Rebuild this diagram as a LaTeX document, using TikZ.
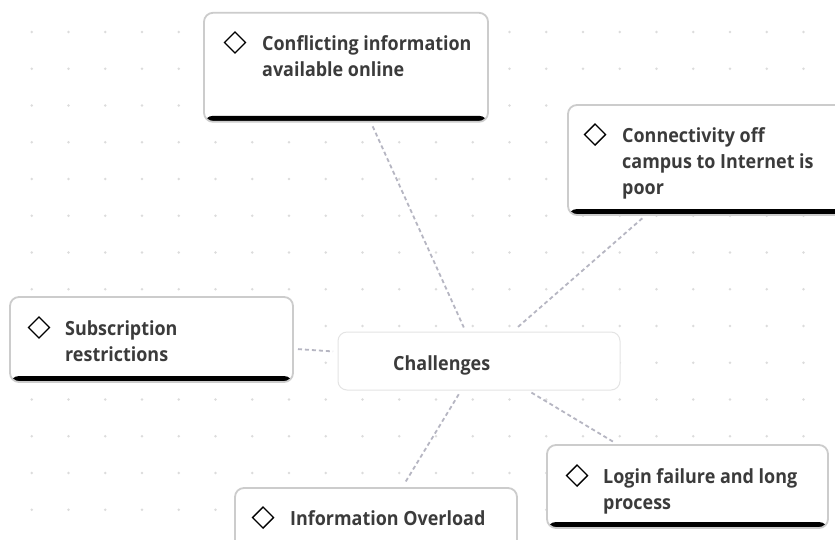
\documentclass[tikz,border=0pt]{standalone}
\usepackage{fontspec}
\setmainfont{Open Sans}[FakeStretch=0.92]
\definecolor{txt}{HTML}{3B3B3B}
\definecolor{frame}{HTML}{CCCCCC}
\definecolor{hubframe}{HTML}{E4E4E4}
\definecolor{dotc}{HTML}{DCDCDC}
\definecolor{linkc}{HTML}{B6B6C2}

% multi-line label whose base anchor is the first baseline
\newcommand{\cardlines}[1]{\parbox[t]{260pt}{\raggedright\baselineskip=26pt #1}}

\begin{document}
\begin{tikzpicture}[x=1pt,y=-1pt,
  card/.style={draw=frame, line width=1.8pt, fill=white, rounded corners=9pt,
    inner sep=0pt, outer sep=0pt,
    path picture={\fill[black] ([yshift=6pt]path picture bounding box.south west)
      rectangle (path picture bounding box.south east);}},
  hub/.style={draw=hubframe, line width=1pt, fill=white, rounded corners=9pt,
    inner sep=0pt, outer sep=0pt},
  cardtext/.style={anchor=base west, inner sep=0pt, text=txt,
    font=\fontsize{19.5pt}{26pt}\selectfont\bfseries},
  bullet/.style={draw=black, line width=1.4pt, line join=miter},
  linkline/.style={draw=linkc, line width=1.8pt, dash pattern=on 4pt off 3pt,
    shorten <=5pt, shorten >=5pt}]

\clip (0,0) rectangle (835,539);
\fill[white] (0,0) rectangle (835,539);

% dotted canvas
\foreach \i in {0,...,22}{
  \foreach \j in {0,...,14}{
    \fill[dotc] (31.7+36.75*\i, 32+36.75*\j) circle (1.4pt);
  }
}

\coordinate (hc) at (479,361);
\coordinate (p1) at (346,67.3);
\coordinate (p2) at (709,160);
\coordinate (p3) at (151.5,339.5);
\coordinate (p5) at (687.5,486.5);
\coordinate (p6) at (376,530.5);

% central topic
\node[hub, minimum width=282pt, minimum height=58pt] (hubbox) at (hc) {};
\node[cardtext] (hubtext) at (393,370.7) {Challenges};

% cards
\node[card, minimum width=284pt, minimum height=109pt] (c1) at (p1) {};
\node[card, minimum width=282pt, minimum height=110pt] (c2) at (p2) {};
\node[card, minimum width=283pt, minimum height=85pt] (c3) at (p3) {};
\node[card, minimum width=281pt, minimum height=83pt] (c5) at (p5) {};
\node[card, minimum width=282pt, minimum height=85pt] (c6) at (p6) {};

% connectors
\draw[linkline] (c1) -- (hubbox);
\draw[linkline] (c2) -- (hubbox);
\draw[linkline] (c3) -- (hubbox);
\draw[linkline] (hubbox) -- (c5);
\draw[linkline] (hubbox) -- (c6);

% card texts
\node[cardtext] (t1) at (262,50) {\cardlines{Conflicting information\\available online}};
\node[cardtext] (t2) at (622,142) {\cardlines{Connectivity off\\campus to Internet is\\poor}};
\node[cardtext] (t3) at (65,335) {\cardlines{Subscription\\restrictions}};
\node[cardtext] (t5) at (603,483) {\cardlines{Login failure and long\\process}};
\node[cardtext] (t6) at (290,525) {\cardlines{Information Overload}};

% diamond markers
\foreach \x/\y in {235/42.5, 595/134.5, 39/327.5, 577/475.5, 263/517.5}{
  \draw[bullet] (\x-10.5,\y) -- (\x,\y-10.5) -- (\x+10.5,\y) -- (\x,\y+10.5) -- cycle;
}
\end{tikzpicture}
\end{document}
